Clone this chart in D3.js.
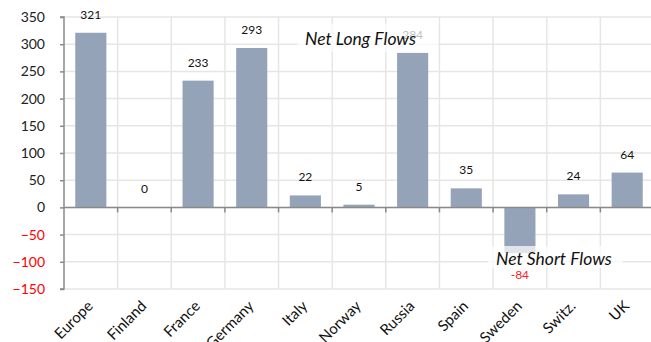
<!DOCTYPE html>
<html><head><meta charset="utf-8">
<script src="https://cdn.jsdelivr.net/npm/d3@7"></script>
<style>body{margin:0;background:#fff}svg{display:block;font-family:Lato,"Open Sans",sans-serif}</style>
</head><body><svg id="c" width="651" height="342"></svg>
<script>
const categories = ["Europe","Finland","France","Germany","Italy","Norway","Russia","Spain","Sweden","Switz.","UK"];
const values = [321,0,233,293,22,5,284,35,-84,24,64];
const yTicks = [-150,-100,-50,0,50,100,150,200,250,300,350];

const svg = d3.select("#c");
const x0 = 64, x1 = 654, yTop = 17, yBot = 289;
const y = d3.scaleLinear().domain([-150,350]).range([yBot,yTop]);
const xb = d3.scaleBand().domain(categories).range([x0,x1]).paddingInner(0.42).paddingOuter(0.21);
const xg = d3.scaleBand().domain(categories).range([x0,x1]).padding(0);

// horizontal gridlines
svg.append("g").selectAll("line").data(yTicks).join("line")
  .attr("x1",x0).attr("x2",x1).attr("y1",d=>y(d)).attr("y2",d=>y(d))
  .attr("stroke","#e6e6e6").attr("stroke-width",1.5);
// vertical gridlines
svg.append("g").selectAll("line").data(categories.slice(1)).join("line")
  .attr("x1",d=>xg(d)).attr("x2",d=>xg(d)).attr("y1",yTop).attr("y2",yBot)
  .attr("stroke","#e6e6e6").attr("stroke-width",1.5);

// bars
svg.append("g").selectAll("rect").data(values).join("rect")
  .attr("x",(d,i)=>xb(categories[i])).attr("width",xb.bandwidth())
  .attr("y",d=>y(Math.max(0,d))).attr("height",d=>Math.abs(y(d)-y(0)))
  .attr("fill","#94a3b8");

// y axis
const ya = d3.axisLeft(y).tickValues(yTicks).tickSize(4).tickPadding(15);
const gy = svg.append("g").attr("transform",`translate(${x0},0)`).call(ya);
gy.select(".domain").attr("stroke","#8a8a8a").attr("stroke-width",1.5).attr("d",`M-4,${yTop}H0V${yBot}H-4`);
gy.selectAll(".tick line").attr("stroke","#8a8a8a").attr("stroke-width",1.5);
gy.selectAll(".tick text").attr("font-size",14).attr("font-family","Lato,sans-serif")
  .attr("fill",d=>d<0?"#ff0000":"#222");

// x axis line at zero
const gx = svg.append("g");
gx.append("line").attr("x1",x0).attr("x2",x1).attr("y1",y(0)).attr("y2",y(0))
  .attr("stroke","#8a8a8a").attr("stroke-width",1.5);
gx.selectAll("line.t").data(categories.slice(1)).join("line").attr("class","t")
  .attr("x1",d=>xg(d)).attr("x2",d=>xg(d)).attr("y1",y(0)).attr("y2",y(0)+5)
  .attr("stroke","#8a8a8a").attr("stroke-width",1.5);

// category labels
svg.append("g").selectAll("text").data(categories).join("text")
  .attr("transform",d=>`translate(${xg(d)+xg.bandwidth()/2+3},${yBot+18}) rotate(-45)`)
  .attr("text-anchor","end").attr("font-size",15).attr("fill","#111").text(d=>d);

// value labels
svg.append("g").selectAll("text").data(values).join("text")
  .attr("x",(d,i)=>xg(categories[i])+xg.bandwidth()/2)
  .attr("y",d=>d>=0?y(d)-14:y(d)+26)
  .attr("text-anchor","middle").attr("font-size",12)
  .attr("fill",d=>d<0?"#ff2020":"#111").text(d=>d);

// annotation boxes
function note(bx,by,bw,bh,tx,ty,txt){
  svg.append("rect").attr("x",bx).attr("y",by).attr("width",bw).attr("height",bh)
    .attr("fill","#fff").attr("fill-opacity",0.72);
  svg.append("text").attr("x",tx).attr("y",ty).attr("font-size",17.5).attr("font-style","italic")
    .attr("fill","#111").text(txt);
}
note(298,24,140,28,305,45,"Net Long Flows");
note(488,246,135,22,496,265,"Net Short Flows");
</script></body></html>
